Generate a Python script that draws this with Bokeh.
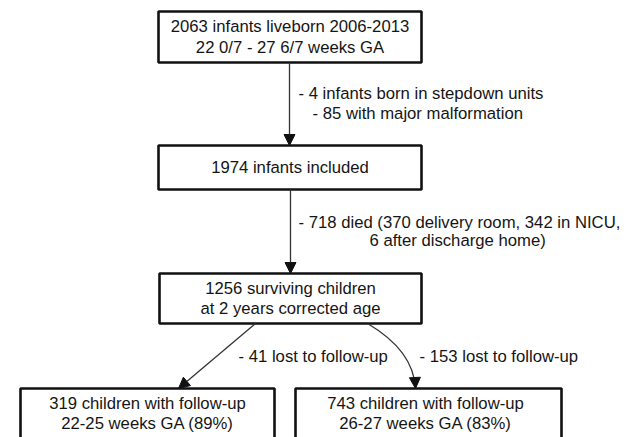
from bokeh.plotting import figure
from bokeh.models import Range1d, Arrow, NormalHead
from bokeh.core.properties import value
from bokeh.embed import file_html
from bokeh.resources import INLINE

# ---- content ----
box_lines = [
    ["2063 infants liveborn 2006-2013", "22 0/7 - 27 6/7 weeks GA"],
    ["1974 infants included"],
    ["1256 surviving children", "at 2 years corrected age"],
    ["319 children with follow-up", "22-25 weeks GA (89%)"],
    ["743 children with follow-up", "26-27 weeks GA (83%)"],
]
exclusion_lines = [
    "- 4 infants born in stepdown units",
    "- 85 with  major malformation",
    "- 718 died (370 delivery room, 342 in NICU,",
    "6 after discharge home)",
    "-  41 lost to follow-up",
    "-  153 lost to follow-up",
]

# ---- layout (pixel coordinates of the picture) ----
FONT = value("Liberation Sans")
FS = "16.7px"
TXT = "#151515"

W, H = 635, 437
p = figure(width=W, height=H, output_backend="svg", toolbar_location=None,
           x_range=Range1d(0, W), y_range=Range1d(H, 0),
           x_axis_location=None, y_axis_location=None, min_border=0,
           outline_line_color=None, background_fill_color="white",
           border_fill_color="white")
p.grid.visible = False

# boxes: left, right, top, bottom
boxes = [
    (158, 421, 11, 62),
    (158, 421, 145, 189),
    (159, 421, 273, 323),
    (20, 274, 388, 450),
    (295, 561, 388, 450),
]
p.quad(left=[b[0] for b in boxes], right=[b[1] for b in boxes],
       top=[b[2] for b in boxes], bottom=[b[3] for b in boxes],
       fill_color="white", line_color="#111111", line_width=2.6)

# box texts
centers = [(289.5, [26, 47]), (289.5, [167]), (290, [288, 308]),
           (147, [403, 423]), (425, [403, 423])]
tx, ty, tt = [], [], []
for (cx, ys), lines in zip(centers, box_lines):
    for y, s in zip(ys, lines):
        tx.append(cx); ty.append(y); tt.append(s)
p.text(x=tx, y=ty, text=tt, text_align="center", text_baseline="middle",
       text_font=FONT, text_font_size=FS, text_color=TXT)

# exclusion texts (left aligned)
ex_pos = [(298, 93), (312, 113), (298, 222), (369, 240), (238, 356), (419, 356)]
p.text(x=[a for a, b in ex_pos], y=[b for a, b in ex_pos], text=exclusion_lines,
       text_align="left", text_baseline="middle",
       text_font=FONT, text_font_size=FS, text_color=TXT)

LC = "#333333"
LW = 1.3

def head():
    return NormalHead(size=11, fill_color="#111111", line_color="#111111", line_width=1)

# straight arrows
for (x0, y0, x1, y1) in [(289, 62, 289, 145), (290, 189, 290, 273), (255, 323, 178, 388)]:
    p.add_layout(Arrow(end=head(), x_start=x0, y_start=y0, x_end=x1, y_end=y1,
                       line_color=LC, line_width=LW))

# curved arrow
sx, sy, cx_, cy_, ex, ey = 367, 323, 413, 350, 415, 388
p.quadratic(x0=[sx], y0=[sy], x1=[ex], y1=[ey], cx=[cx_], cy=[cy_],
            line_color=LC, line_width=LW)
p.add_layout(Arrow(end=head(), x_start=ex - (ex - cx_) * 0.05, y_start=ey - (ey - cy_) * 0.05,
                   x_end=ex, y_end=ey, line_alpha=0))

open("out.html", "w").write(file_html(p, INLINE))
